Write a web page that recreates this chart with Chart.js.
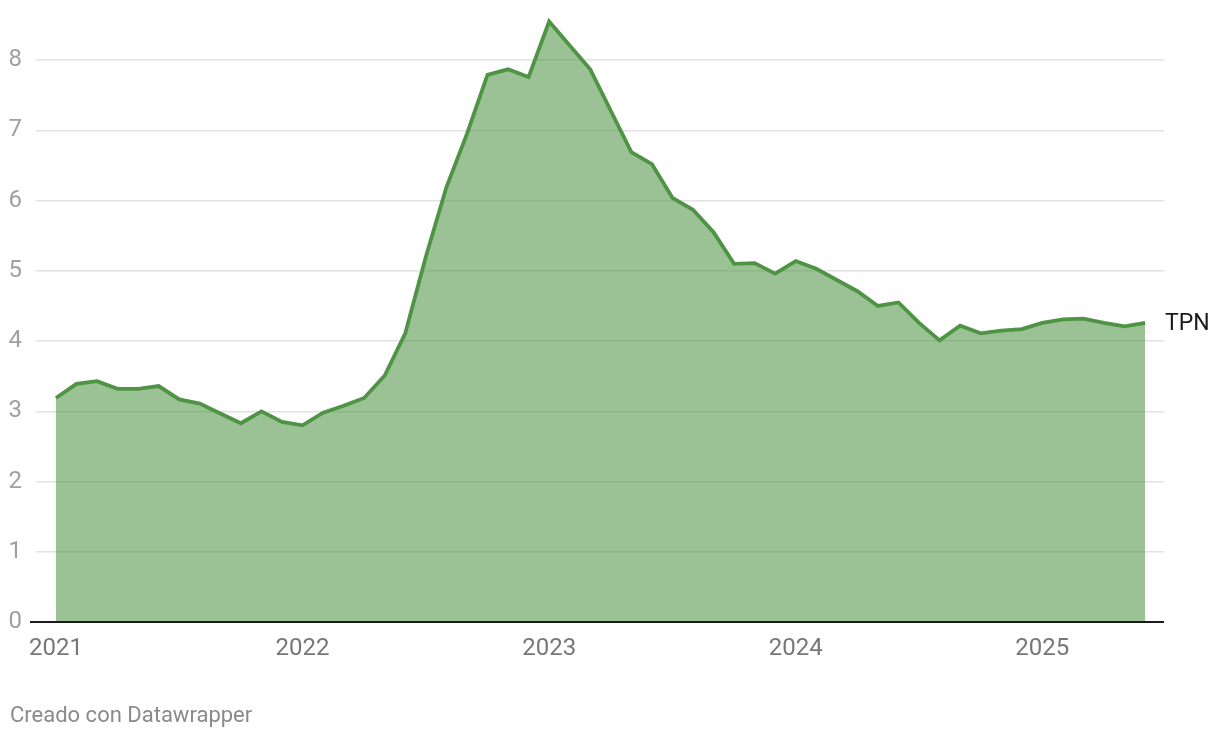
<!DOCTYPE html>
<html>
<head>
<meta charset="utf-8">
<script src="https://cdn.jsdelivr.net/npm/chart.js@4"></script>
<style>
  html, body { margin: 0; padding: 0; background: #fff; }
  #wrap { width: 1220px; height: 738px; position: relative; }
</style>
</head>
<body>
<div id="wrap"><canvas id="chart" width="1220" height="738"></canvas></div>
<script>
// monthly values, Jan 2021 .. Jun 2025
const months = [];
for (let y = 2021; y <= 2025; y++) {
    for (let m = 1; m <= 12; m++) {
        if (y === 2025 && m > 6) break;
        months.push(y + '-' + String(m).padStart(2, '0'));
    }
}
const tpnValues = [
    3.19, 3.39, 3.43, 3.32, 3.32, 3.36, 3.17, 3.11, 2.97, 2.83, 3.00, 2.85,
    2.80, 2.98, 3.08, 3.19, 3.51, 4.11, 5.20, 6.19, 6.95, 7.79, 7.87, 7.76,
    8.55, 8.21, 7.87, 7.28, 6.69, 6.52, 6.04, 5.87, 5.55, 5.10, 5.11, 4.96,
    5.14, 5.03, 4.87, 4.71, 4.50, 4.55, 4.26, 4.01, 4.22, 4.11, 4.15, 4.17,
    4.26, 4.31, 4.32, 4.26, 4.21, 4.26
];
const yearLabels = ['2021', '2022', '2023', '2024', '2025'];
const yTicks = [0, 1, 2, 3, 4, 5, 6, 7, 8];
const seriesName = 'TPN';

const points = tpnValues.map((v, i) => ({ x: i, y: v }));

// baseline, end label and footer
const extras = {
    id: 'extras',
    afterDatasetsDraw(chart) {
        const ctx = chart.ctx;
        const area = chart.chartArea;
        const ys = chart.scales.y;
        ctx.save();
        const y0 = Math.round(ys.getPixelForValue(0));
        ctx.strokeStyle = '#1a1a1a';
        ctx.lineWidth = 2;
        ctx.beginPath();
        ctx.moveTo(area.left - 6, y0);
        ctx.lineTo(area.right, y0);
        ctx.stroke();

        const last = tpnValues.length - 1;
        ctx.fillStyle = '#1a1a1a';
        ctx.font = '23px Roboto';
        ctx.textBaseline = 'middle';
        ctx.textAlign = 'left';
        ctx.fillText(seriesName, area.right + 1, ys.getPixelForValue(tpnValues[last]) + 1);

        ctx.fillStyle = '#8a8a8a';
        ctx.font = '22px Roboto';
        ctx.fillText('Creado con Datawrapper', 10, 716);
        ctx.restore();
    }
};

new Chart(document.getElementById('chart'), {
    type: 'line',
    data: {
        datasets: [{
            label: seriesName,
            data: points,
            borderColor: '#4f9445',
            borderWidth: 3.8,
            backgroundColor: 'rgba(82, 150, 70, 0.58)',
            fill: 'origin',
            pointRadius: 0,
            tension: 0
        }]
    },
    options: {
        responsive: false,
        animation: false,
        layout: { padding: { top: 4, right: 56, bottom: 76, left: 0 } },
        plugins: {
            legend: { display: false },
            tooltip: { enabled: false }
        },
        scales: {
            x: {
                type: 'linear',
                min: -0.97,
                max: 53.92,
                afterBuildTicks(scale) {
                    scale.ticks = yearLabels.map((_, i) => ({ value: i * 12 }));
                },
                afterFit(scale) {
                    scale.height = 40;
                    scale.paddingLeft = 0;
                    scale.paddingRight = 0;
                },
                ticks: {
                    autoSkip: false,
                    maxRotation: 0,
                    padding: 13,
                    color: '#777777',
                    font: { family: 'Roboto', size: 24 },
                    callback: (v) => yearLabels[v / 12]
                },
                grid: { display: false, drawTicks: false },
                border: { display: false }
            },
            y: {
                min: 0,
                max: 8.8,
                afterBuildTicks(scale) {
                    scale.ticks = yTicks.map(v => ({ value: v }));
                },
                afterFit(scale) {
                    scale.width = 36;
                    scale.paddingTop = 0;
                    scale.paddingBottom = 0;
                },
                ticks: {
                    padding: 14,
                    color: '#a0a0a0',
                    font: { family: 'Roboto', size: 24 }
                },
                grid: { color: '#e2e2e2', lineWidth: 1.5, drawTicks: false },
                border: { display: false }
            }
        }
    },
    plugins: [extras]
});
</script>
</body>
</html>
